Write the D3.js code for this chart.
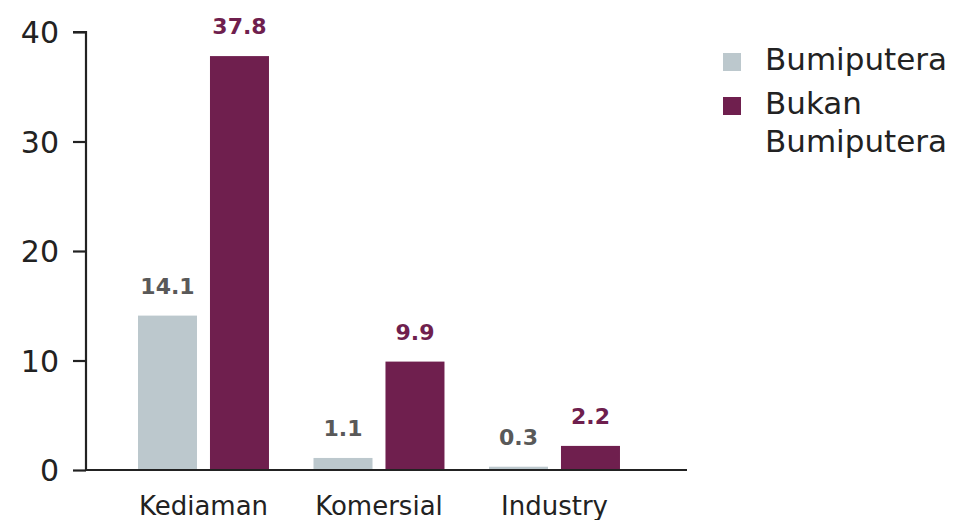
<!DOCTYPE html>
<html>
<head>
<meta charset="utf-8">
<script src="https://cdn.jsdelivr.net/npm/d3@7"></script>
<style>
  html, body { margin: 0; padding: 0; background: #fff; }
  svg { display: block; font-family: "DejaVu Sans", sans-serif; }
</style>
</head>
<body>
<svg id="chart" width="958" height="520"></svg>
<script>
// Categories and series
const categories = ["Kediaman", "Komersial", "Industry"];
const seriesNames = ["Bumiputera", "Bukan Bumiputera"];
const bumiputera = [14.1, 1.1, 0.3];
const bukanBumiputera = [37.8, 9.9, 2.2];
const yTicks = [0, 10, 20, 30, 40];

const colors = ["#bcc8cd", "#6f1f4e"];
const labelColors = ["#595959", "#6f1f4e"];
const series = [bumiputera, bukanBumiputera];

const svg = d3.select("#chart");

const y = d3.scaleLinear().domain([0, 40]).range([470, 32]);
const x = d3.scaleBand().domain(categories).range([115.75, 642.25]).paddingInner(0).paddingOuter(0);
const inner = d3.scaleBand().domain([0, 1]).range([0, 131]).paddingInner(0.18);

const rows = categories.map((c, i) => ({ c, vals: series.map(s => s[i]) }));

// Bars
const groups = svg.append("g").selectAll("g").data(rows).join("g")
  .attr("transform", d => `translate(${x(d.c) + (x.bandwidth() - 131) / 2},0)`);

groups.selectAll("rect").data(d => d.vals).join("rect")
  .attr("x", (v, j) => inner(j))
  .attr("width", 59)
  .attr("y", v => y(v))
  .attr("height", v => y(0) - y(v))
  .attr("fill", (v, j) => colors[j]);

// Value labels
groups.selectAll("text").data(d => d.vals).join("text")
  .attr("x", (v, j) => inner(j) + 29.5)
  .attr("y", v => y(v) - 22)
  .attr("text-anchor", "middle")
  .attr("font-size", 22)
  .attr("font-weight", "bold")
  .attr("fill", (v, j) => labelColors[j])
  .text(v => v.toFixed(1));

// Y axis
const yAxis = svg.append("g")
  .attr("transform", "translate(86,0)")
  .call(d3.axisLeft(y).tickValues(yTicks).tickSize(13).tickPadding(14).tickFormat(d3.format("d")));
yAxis.select(".domain").attr("stroke", "#222").attr("stroke-width", 2.2).attr("d", `M-13,${y(40)}H0V${y(0)}`);
yAxis.selectAll(".tick line").attr("stroke", "#222").attr("stroke-width", 2.2);
yAxis.selectAll(".tick text").attr("font-size", 30).attr("fill", "#222")
  .attr("font-family", "DejaVu Sans, sans-serif").attr("dy", "0.36em");

// X axis baseline
svg.append("line")
  .attr("x1", 86).attr("x2", 687)
  .attr("y1", y(0)).attr("y2", y(0))
  .attr("stroke", "#222").attr("stroke-width", 2.2);

// Category labels
svg.append("g").selectAll("text").data(categories).join("text")
  .attr("x", d => x(d) + x.bandwidth() / 2)
  .attr("y", 515)
  .attr("text-anchor", "middle")
  .attr("font-size", 26)
  .attr("fill", "#222")
  .text(d => d);

// Legend
const legend = svg.append("g").attr("transform", "translate(723,0)");
const legendLines = [["Bumiputera"], ["Bukan", "Bumiputera"]];
const legendTop = [53, 97];
legendLines.forEach((lines, i) => {
  legend.append("rect")
    .attr("x", 0).attr("y", legendTop[i])
    .attr("width", 18).attr("height", 18)
    .attr("fill", colors[i]);
  const t = legend.append("text")
    .attr("x", 42).attr("y", legendTop[i] + 17)
    .attr("font-size", 31).attr("fill", "#222");
  lines.forEach((ln, k) => {
    t.append("tspan").attr("x", 42).attr("dy", k === 0 ? 0 : 38).text(ln);
  });
});
</script>
</body>
</html>
